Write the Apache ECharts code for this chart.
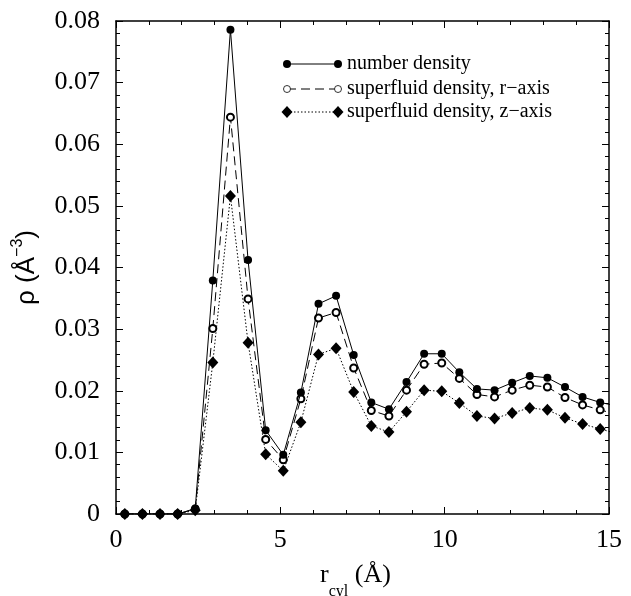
<!DOCTYPE html>
<html>
<head>
<meta charset="utf-8">
<script src="https://cdn.jsdelivr.net/npm/echarts@6/dist/echarts.min.js"></script>
<style>html,body{margin:0;padding:0;background:#fff;}#c{width:631px;height:596px;}</style>
</head>
<body>
<div id="c"></div>
<script>
// r_cyl bin centres (Å)
var rCyl = [0.268, 0.804, 1.339, 1.875, 2.411, 2.946, 3.482, 4.018, 4.554, 5.089, 5.625, 6.161, 6.696, 7.232,
  7.768, 8.304, 8.839, 9.375, 9.911, 10.446, 10.982, 11.518, 12.054, 12.589, 13.125, 13.661, 14.196, 14.732, 15.268];
var numberDensity = [0, 0, 0, 0, 0.0009, 0.0379, 0.0786, 0.0412, 0.0136, 0.0096, 0.0197, 0.0341, 0.0354, 0.0258,
  0.0181, 0.0170, 0.0214, 0.0260, 0.0260, 0.0230, 0.0203, 0.0201, 0.0213, 0.0224, 0.0221, 0.0206, 0.0190, 0.0181, 0.0175];
var superR = [0, 0, 0, 0, 0.0008, 0.0301, 0.0644, 0.0349, 0.0121, 0.0088, 0.0187, 0.0318, 0.0327, 0.0237,
  0.0168, 0.0159, 0.0201, 0.0243, 0.0245, 0.0220, 0.0194, 0.0190, 0.0201, 0.0209, 0.0206, 0.0189, 0.0177, 0.0169, 0.0161];
var superZ = [0, 0, 0, 0, 0.0006, 0.0246, 0.0516, 0.0278, 0.0097, 0.0070, 0.0149, 0.0259, 0.0269, 0.0198,
  0.0143, 0.0133, 0.0166, 0.0201, 0.0199, 0.0180, 0.0159, 0.0155, 0.0164, 0.0172, 0.0169, 0.0156, 0.0146, 0.0138, 0.0130];
var seriesNames = ['number density', 'superfluid density, r\u2212axis', 'superfluid density, z\u2212axis'];
var xTicks = [0, 5, 10, 15];
var yTicks = [0, 0.01, 0.02, 0.03, 0.04, 0.05, 0.06, 0.07, 0.08];

function pairs(ys) { return rCyl.map(function (x, i) { return [x, ys[i]]; }); }

var serif = 'Liberation Serif';
var chart = echarts.init(document.getElementById('c'), null, {renderer: 'canvas'});

var axisCommon = {
  type: 'value',
  axisLine: {show: true, onZero: false, lineStyle: {color: '#000', width: 1.5}},
  axisTick: {show: true, inside: true, length: 7, lineStyle: {color: '#000', width: 1}},
  minorTick: {show: true, splitNumber: 5, length: 4, lineStyle: {color: '#000', width: 1}},
  splitLine: {show: false}
};

var option = {
  backgroundColor: '#fff',
  animation: false,
  grid: {left: 116, right: 22, top: 21, bottom: 82, containLabel: false, outerBoundsMode: 'none'},
  xAxis: [
    Object.assign({}, axisCommon, {
      min: xTicks[0], max: xTicks[xTicks.length - 1], interval: 5, position: 'bottom',
      axisLabel: {show: true, margin: 13, fontFamily: serif, fontSize: 26, color: '#000'},
      name: '{r|r}{sub|cyl}{t| (\u00c5)}', nameLocation: 'middle', nameGap: 44,
      nameTextStyle: {
        padding: [0, 14, 0, 0],
        rich: {
          r: {fontFamily: serif, fontSize: 26, color: '#000', verticalAlign: 'bottom', lineHeight: 30},
          sub: {fontFamily: serif, fontSize: 16, color: '#000', verticalAlign: 'bottom', lineHeight: 30, padding: [0, 0, -12, 0]},
          t: {fontFamily: serif, fontSize: 26, color: '#000', verticalAlign: 'bottom', lineHeight: 30}
        }
      }
    }),
    Object.assign({}, axisCommon, {
      min: xTicks[0], max: xTicks[xTicks.length - 1], interval: 5, position: 'top',
      axisLabel: {show: false}
    })
  ],
  yAxis: [
    Object.assign({}, axisCommon, {
      min: yTicks[0], max: yTicks[yTicks.length - 1], interval: 0.01, position: 'left',
      axisLabel: {
        show: true, margin: 16, fontFamily: serif, fontSize: 26, color: '#000',
        formatter: function (v) { return v === 0 ? '0' : v.toFixed(2); }
      },
      name: '{a|\u03c1 (\u00c5}{s|\u22123}{a|)}', nameLocation: 'middle', nameGap: 76, nameRotate: 90,
      nameTextStyle: {
        padding: [0, 0, 0, 0],
        rich: {
          a: {fontFamily: 'Liberation Sans', fontSize: 26, color: '#000', lineHeight: 30, verticalAlign: 'bottom'},
          s: {fontFamily: 'Liberation Sans', fontSize: 16, color: '#000', lineHeight: 30, verticalAlign: 'top', padding: [0, 0, 8, 0]}
        }
      }
    }),
    Object.assign({}, axisCommon, {
      min: yTicks[0], max: yTicks[yTicks.length - 1], interval: 0.01, position: 'right',
      axisLabel: {show: false}
    })
  ],
  series: [
    {
      name: seriesNames[0], type: 'line', data: pairs(numberDensity), clip: true,
      symbol: 'circle', symbolSize: 8, showSymbol: true,
      itemStyle: {color: '#000', borderColor: '#000', borderWidth: 0},
      lineStyle: {color: '#000', width: 1, type: 'solid'}, z: 3
    },
    {
      name: seriesNames[1], type: 'line', data: pairs(superR), clip: true,
      symbol: 'emptyCircle', symbolSize: 7, showSymbol: true,
      itemStyle: {color: '#000', borderColor: '#000', borderWidth: 0.8},
      lineStyle: {color: '#000', width: 1, type: [9, 5]}, z: 2
    },
    {
      name: seriesNames[2], type: 'line', data: pairs(superZ), clip: true,
      symbol: 'diamond', symbolSize: [11, 12], showSymbol: true,
      itemStyle: {color: '#000', borderColor: '#000', borderWidth: 0},
      lineStyle: {color: '#000', width: 1, type: [1.5, 2]}, z: 1
    }
  ],
  graphic: [
    // legend row 1
    {type: 'line', shape: {x1: 287, y1: 64, x2: 338, y2: 64}, style: {stroke: '#000', lineWidth: 1}},
    {type: 'circle', shape: {cx: 287, cy: 64, r: 4}, style: {fill: '#000'}},
    {type: 'circle', shape: {cx: 338, cy: 64, r: 4}, style: {fill: '#000'}},
    {type: 'text', x: 347, y: 64, style: {text: seriesNames[0], font: '20px "Liberation Serif"', fill: '#000', verticalAlign: 'middle'}},
    // legend row 2
    {type: 'line', shape: {x1: 287, y1: 89, x2: 338, y2: 89}, style: {stroke: '#000', lineWidth: 1, lineDash: [9, 5]}},
    {type: 'circle', shape: {cx: 287, cy: 89, r: 3.5}, style: {fill: '#fff', stroke: '#000', lineWidth: 0.8}},
    {type: 'circle', shape: {cx: 338, cy: 89, r: 3.5}, style: {fill: '#fff', stroke: '#000', lineWidth: 0.8}},
    {type: 'text', x: 347, y: 89, style: {text: seriesNames[1], font: '20px "Liberation Serif"', fill: '#000', verticalAlign: 'middle'}},
    // legend row 3
    {type: 'line', shape: {x1: 287, y1: 112, x2: 338, y2: 112}, style: {stroke: '#000', lineWidth: 1, lineDash: [1.5, 2]}},
    {type: 'polygon', shape: {points: [[287, 106], [292.5, 112], [287, 118], [281.5, 112]]}, style: {fill: '#000'}},
    {type: 'polygon', shape: {points: [[338, 106], [343.5, 112], [338, 118], [332.5, 112]]}, style: {fill: '#000'}},
    {type: 'text', x: 347, y: 112, style: {text: seriesNames[2], font: '20px "Liberation Serif"', fill: '#000', verticalAlign: 'middle'}}
  ]
};
chart.setOption(option);
</script>
</body>
</html>
